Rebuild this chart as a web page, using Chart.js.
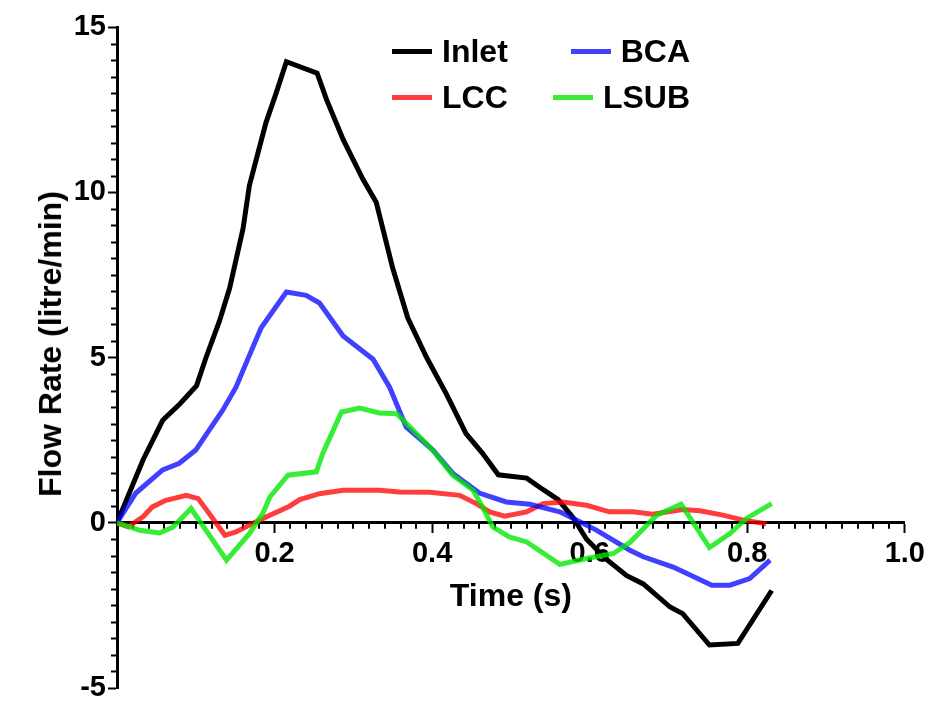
<!DOCTYPE html>
<html>
<head>
<meta charset="utf-8">
<script src="https://cdn.jsdelivr.net/npm/chart.js@4/dist/chart.umd.min.js"></script>
<style>
  html, body { margin: 0; padding: 0; background: #fff; }
  #wrap { position: relative; width: 930px; height: 708px; }
  #legend {
    position: absolute; left: 392px; top: 29px; width: 298px;
    display: grid; grid-template-columns: 1fr auto; grid-auto-rows: 45.5px;
    font: bold 32px 'Liberation Sans', Arial, sans-serif; color: #000;
  }
  #legend .item { display: flex; align-items: center; gap: 10px; white-space: nowrap; }
  #legend .item:nth-child(even) { justify-self: end; }
  #legend .swatch { width: 40px; height: 5px; }
  #ytitle {
    position: absolute; left: 50px; top: 344px;
    transform: translate(-50%, -50%) rotate(-90deg);
    font: bold 32px/1 'Liberation Sans', Arial, sans-serif; color: #000; white-space: nowrap;
  }
</style>
</head>
<body>
<div id="wrap">
  <canvas id="flow" width="930" height="708"></canvas>
  <div id="legend"></div>
  <div id="ytitle">Flow Rate (litre/min)</div>
</div>
<script>
// time (s) and flow rate (litre/min) per outlet
const inletT = [0, 0.033, 0.058, 0.080, 0.101, 0.113, 0.130, 0.143, 0.160, 0.168, 0.189, 0.202, 0.215, 0.254, 0.266, 0.287, 0.312, 0.329, 0.350, 0.369, 0.393, 0.418, 0.443, 0.464, 0.484, 0.520, 0.541, 0.560, 0.579, 0.596, 0.621, 0.647, 0.668, 0.702, 0.718, 0.752, 0.788, 0.831];
const inletQ = [0, 1.9, 3.1, 3.6, 4.15, 5.0, 6.1, 7.1, 8.9, 10.2, 12.1, 13.0, 13.95, 13.6, 12.8, 11.6, 10.4, 9.7, 7.7, 6.2, 5.0, 3.9, 2.7, 2.1, 1.45, 1.35, 1.0, 0.7, 0.15, -0.5, -1.1, -1.6, -1.85, -2.55, -2.75, -3.7, -3.65, -2.05];

const bcaT = [0, 0.024, 0.058, 0.079, 0.100, 0.117, 0.134, 0.151, 0.166, 0.183, 0.215, 0.240, 0.257, 0.287, 0.325, 0.346, 0.367, 0.401, 0.426, 0.460, 0.494, 0.524, 0.562, 0.583, 0.609, 0.651, 0.668, 0.706, 0.755, 0.778, 0.803, 0.829];
const bcaQ = [0, 0.9, 1.6, 1.8, 2.2, 2.8, 3.4, 4.1, 4.95, 5.9, 6.98, 6.88, 6.65, 5.65, 4.95, 4.1, 2.9, 2.2, 1.5, 0.9, 0.63, 0.56, 0.33, 0.08, -0.23, -0.83, -1.03, -1.34, -1.89, -1.89, -1.69, -1.13];

const lccT = [0, 0.014, 0.033, 0.045, 0.062, 0.088, 0.103, 0.117, 0.137, 0.151, 0.172, 0.194, 0.219, 0.232, 0.257, 0.287, 0.333, 0.359, 0.397, 0.435, 0.456, 0.473, 0.492, 0.520, 0.541, 0.566, 0.596, 0.625, 0.655, 0.680, 0.718, 0.740, 0.769, 0.795, 0.824];
const lccQ = [0, -0.12, 0.18, 0.48, 0.68, 0.83, 0.73, 0.28, -0.38, -0.28, -0.02, 0.23, 0.5, 0.7, 0.88, 0.98, 0.98, 0.93, 0.92, 0.83, 0.58, 0.33, 0.2, 0.33, 0.58, 0.63, 0.53, 0.33, 0.33, 0.26, 0.4, 0.36, 0.23, 0.08, -0.03];

const lsubT = [0, 0.029, 0.054, 0.071, 0.094, 0.139, 0.168, 0.185, 0.194, 0.217, 0.253, 0.261, 0.285, 0.308, 0.333, 0.355, 0.376, 0.401, 0.426, 0.452, 0.464, 0.477, 0.498, 0.520, 0.562, 0.596, 0.630, 0.651, 0.685, 0.716, 0.752, 0.778, 0.799, 0.831];
const lsubQ = [0, -0.23, -0.31, -0.13, 0.43, -1.13, -0.33, 0.28, 0.78, 1.44, 1.54, 2.09, 3.35, 3.47, 3.32, 3.3, 2.8, 2.19, 1.44, 0.98, 0.48, -0.13, -0.43, -0.58, -1.26, -1.08, -0.93, -0.6, 0.23, 0.56, -0.75, -0.33, 0.13, 0.58];

const yTicks = [-5, 0, 5, 10, 15];
const xTicks = [0.2, 0.4, 0.6, 0.8, 1.0];

const FONT = "'Liberation Sans', Arial, sans-serif";
const pts = (t, q) => t.map((x, i) => ({ x, y: q[i] }));

function series(label, t, q, color, order) {
  return {
    label, data: pts(t, q), order,
    borderColor: color, backgroundColor: color,
    borderWidth: 5, borderJoinStyle: 'miter',
    pointRadius: 0, tension: 0, fill: false
  };
}

// short minor ticks between the labelled ones, placed with the scales
const minorTicks = {
  id: 'minorTicks',
  beforeDatasetsDraw(chart) {
    const { ctx, scales: { x, y } } = chart;
    const x0 = x.getPixelForValue(0);
    const y0 = y.getPixelForValue(0);
    ctx.save();
    ctx.strokeStyle = '#000';
    ctx.lineWidth = 2;
    ctx.beginPath();
    for (let i = -10; i <= 30; i++) {
      if (i % 10 === 0) continue;
      const py = Math.round(y.getPixelForValue(i * 0.5)) + 0.5;
      ctx.moveTo(x0 - 6, py);
      ctx.lineTo(x0, py);
    }
    for (let i = 1; i < 50; i++) {
      if (i % 10 === 0) continue;
      const px = Math.round(x.getPixelForValue(i * 0.02));
      ctx.moveTo(px, y0);
      ctx.lineTo(px, y0 + 6);
    }
    ctx.stroke();
    ctx.restore();
  }
};

const chart = new Chart(document.getElementById('flow'), {
  type: 'line',
  data: {
    datasets: [
      series('Inlet', inletT, inletQ, '#000000', 3),
      series('BCA', bcaT, bcaQ, 'rgba(0,0,255,0.75)', 1),
      series('LCC', lccT, lccQ, 'rgba(255,0,0,0.76)', 2),
      series('LSUB', lsubT, lsubQ, 'rgba(0,232,0,0.78)', 0)
    ]
  },
  options: {
    responsive: false,
    animation: false,
    devicePixelRatio: 1,
    layout: { padding: { top: 27, right: 25, bottom: 20, left: 0 } },
    plugins: { legend: { display: false }, tooltip: { enabled: false } },
    scales: {
      x: {
        type: 'linear',
        position: { y: 0 },
        min: 0, max: 1,
        afterBuildTicks: s => { s.ticks = [0, ...xTicks].map(value => ({ value })); },
        ticks: {
          color: '#000', padding: 5, maxRotation: 0,
          font: { family: FONT, size: 29, weight: 'bold' },
          callback: v => (v === 0 ? '' : v.toFixed(1))
        },
        grid: { drawOnChartArea: false, tickLength: 9, tickWidth: 2, tickColor: '#000' },
        border: { color: '#000', width: 3 },
        title: {
          display: true, text: 'Time (s)', color: '#000',
          font: { family: FONT, size: 32, weight: 'bold' },
          padding: { top: 1, bottom: 0 }
        }
      },
      y: {
        min: -5, max: 15,
        afterBuildTicks: s => { s.ticks = yTicks.map(value => ({ value })); },
        afterFit: s => { s.width = 117; },
        ticks: {
          color: '#000', padding: 2,
          font: { family: FONT, size: 29, weight: 'bold' }
        },
        grid: { drawOnChartArea: false, tickLength: 9, tickWidth: 2, tickColor: '#000' },
        border: { color: '#000', width: 3 }
      }
    }
  },
  plugins: [minorTicks]
});

// legend: two columns, right one flush right
const legend = document.getElementById('legend');
chart.data.datasets.forEach(ds => {
  const item = document.createElement('div');
  item.className = 'item';
  const sw = document.createElement('span');
  sw.className = 'swatch';
  sw.style.background = ds.borderColor;
  const txt = document.createElement('span');
  txt.textContent = ds.label;
  item.append(sw, txt);
  legend.append(item);
});
</script>
</body>
</html>
